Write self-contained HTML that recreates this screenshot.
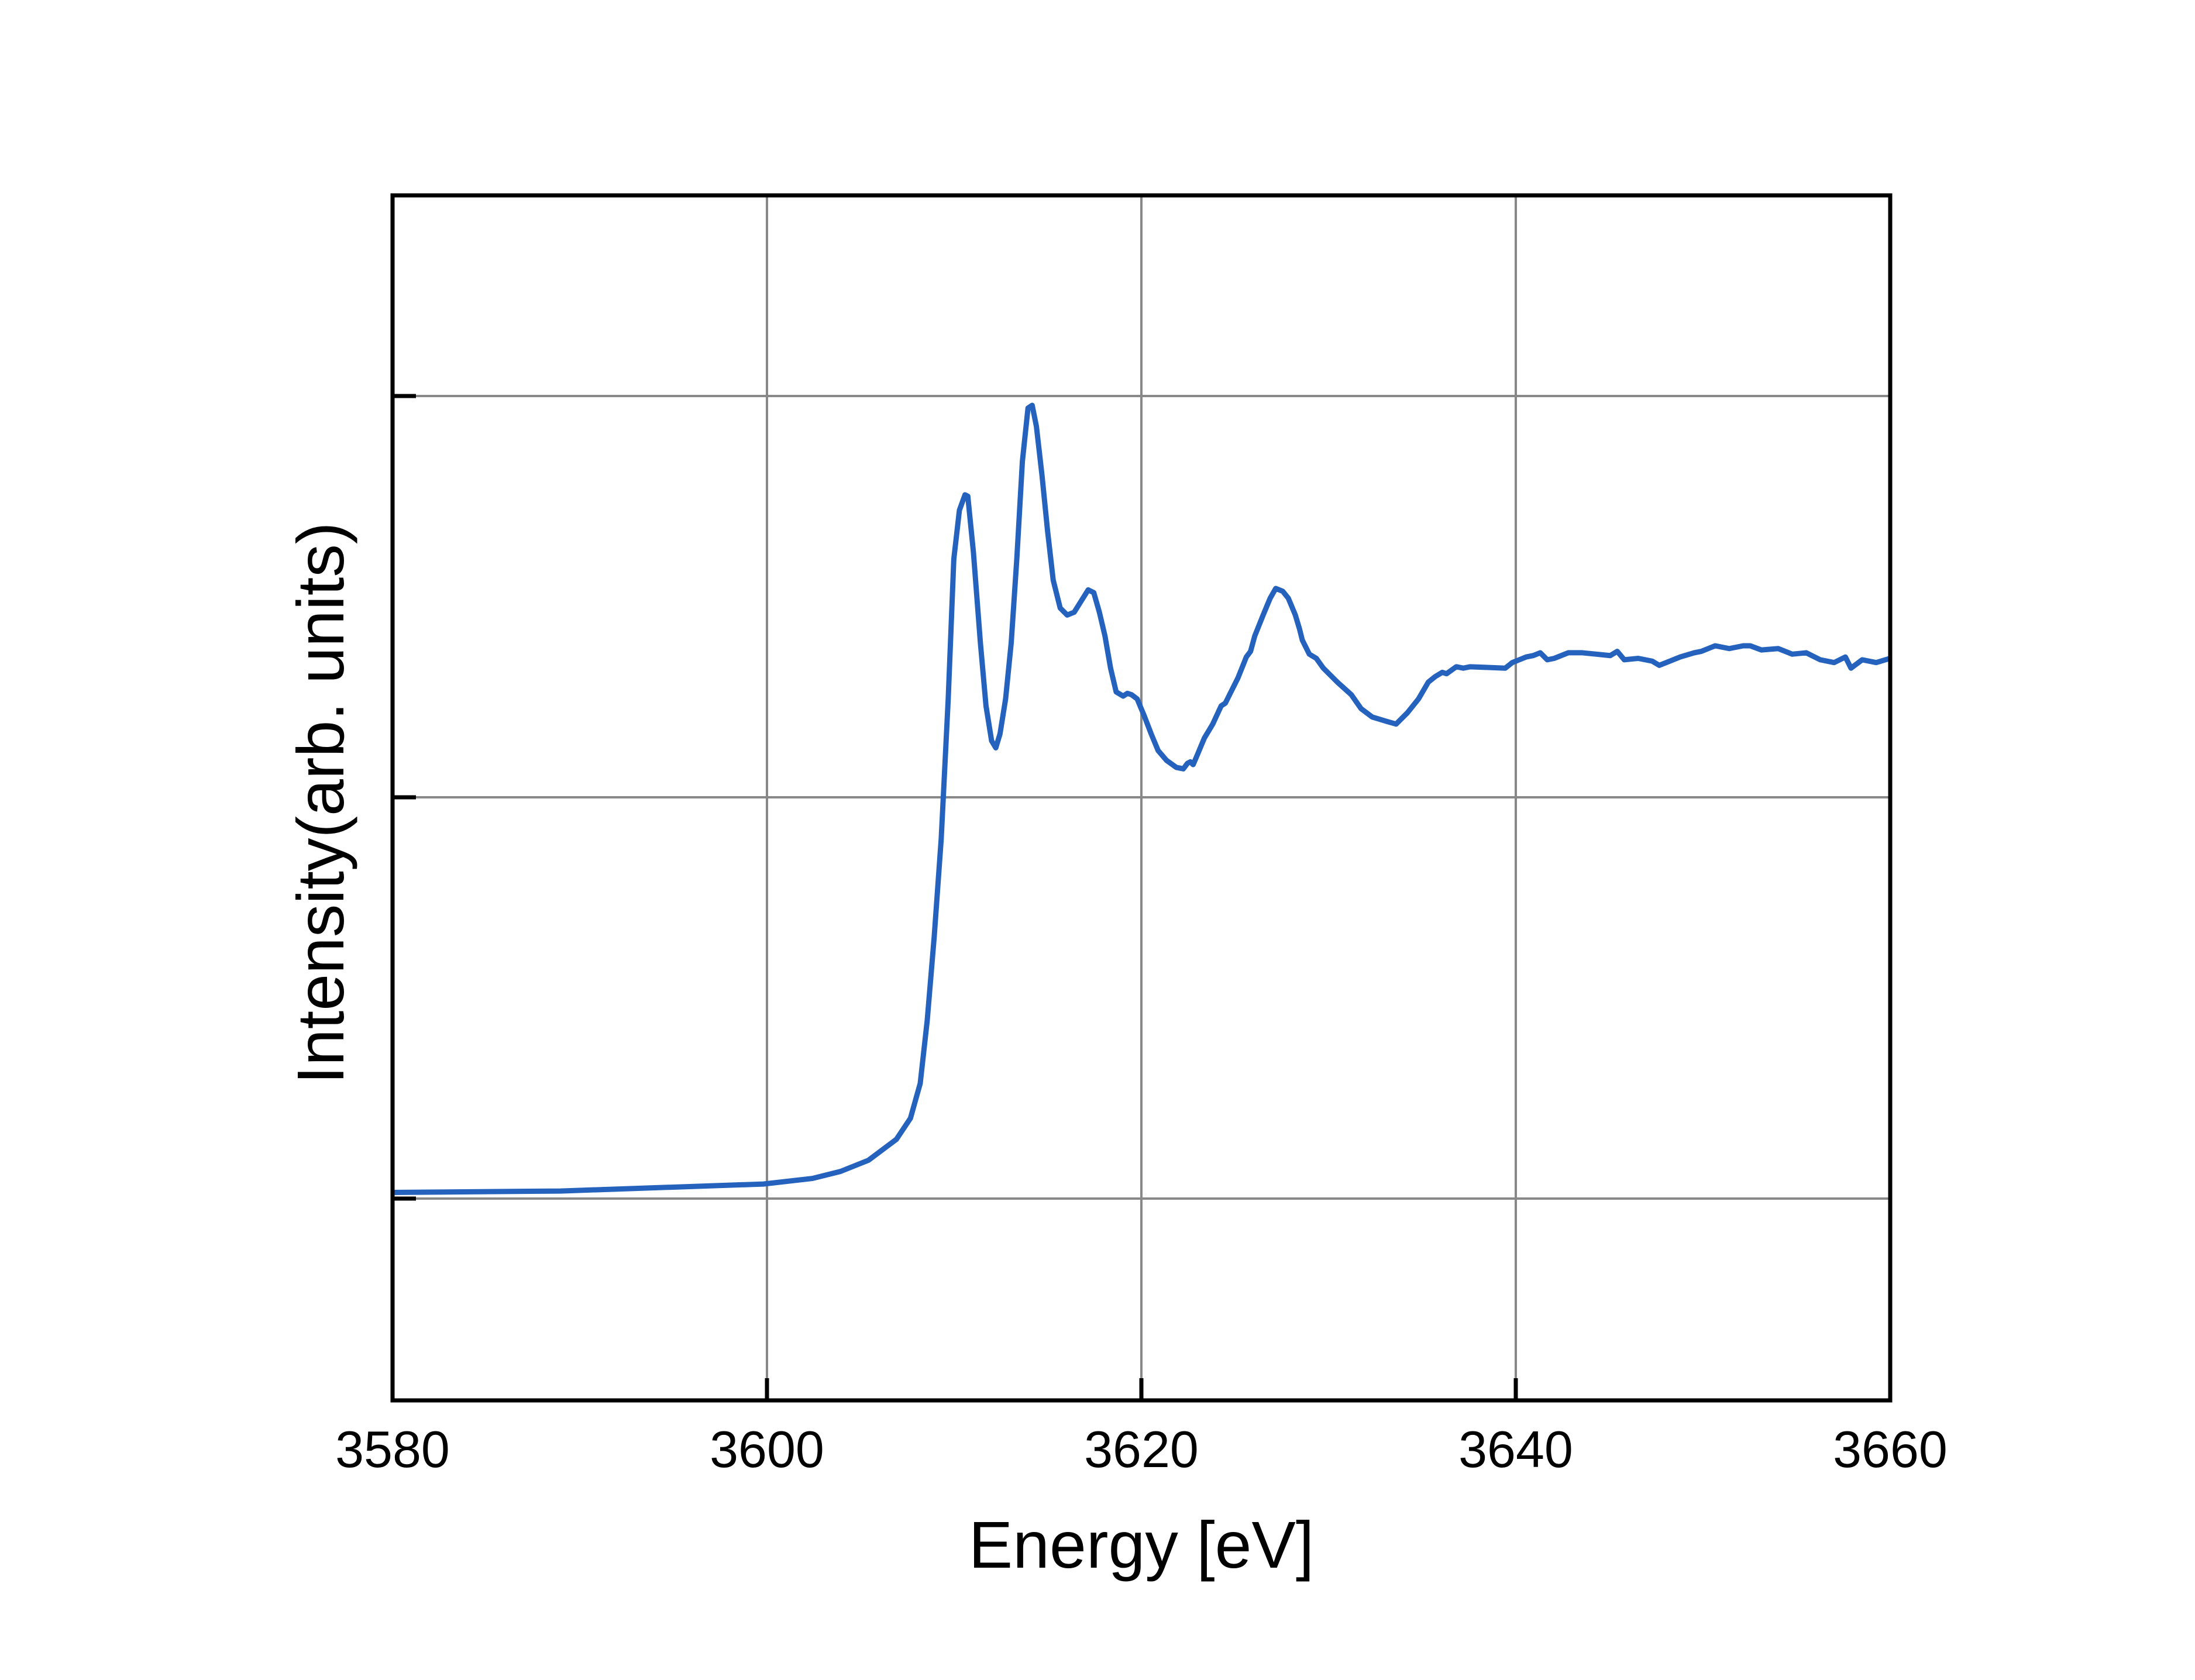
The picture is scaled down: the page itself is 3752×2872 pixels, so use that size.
<!DOCTYPE html>
<html><head><meta charset="utf-8"><style>html,body{margin:0;padding:0;background:#fff}svg{display:block}</style></head>
<body>
<svg width="3752" height="2872" viewBox="0 0 3752 2872" xmlns="http://www.w3.org/2000/svg">
<rect width="3752" height="2872" fill="#fff"/>
<g stroke="#888" stroke-width="4">
<line x1="1311" y1="334" x2="1311" y2="2394"/>
<line x1="1951" y1="334" x2="1951" y2="2394"/>
<line x1="2591" y1="334" x2="2591" y2="2394"/>
<line x1="671" y1="677" x2="3231" y2="677"/>
<line x1="671" y1="1363" x2="3231" y2="1363"/>
<line x1="671" y1="2049" x2="3231" y2="2049"/>
</g>
<g transform="matrix(2.3925 0 0 2.39 1.1 -0.2)">
<polyline fill="none" stroke="#2462bd" stroke-width="9" vector-effect="non-scaling-stroke" stroke-linejoin="round" points="280,853 400,852 545,847 580,843 600,838 620,830 640,815 650,800 657,775 662,730 667,670 672,600 677,500 681,400 685,365 689,354 691,355 695,395 700,460 704,505 708,530 711,535 714,525 718,500 722,460 726,400 730,330 734,292 737,290 740,305 744,340 748,380 752,415 757,435 762,440 767,438 772,430 777,422 781,424 785,438 789,455 793,478 797,495 802,498 805,496 808,497 812,500 817,512 822,525 827,537 833,544 840,549 845,550 848,546 850,545 852,547 855,540 860,528 863,523 866,518 872,505 875,503 878,497 884,485 890,470 893,466 896,455 902,440 907,428 911,421 916,423 920,428 925,440 928,450 930,458 935,468 940,471 945,478 955,488 965,497 972,507 980,513 990,516 997,518 1005,510 1013,500 1020,488 1025,484 1030,481 1033,482 1040,477 1045,478 1050,477 1075,478 1080,474 1085,472 1090,470 1095,469 1100,467 1105,472 1110,471 1120,467 1130,467 1140,468 1150,469 1155,466 1160,472 1170,471 1180,473 1185,476 1190,474 1200,470 1210,467 1215,466 1225,462 1235,464 1245,462 1250,462 1258,465 1270,464 1280,468 1290,467 1300,472 1310,474 1318,470 1322,478 1330,472 1340,474 1350,471"/>
</g>
<g stroke="#000" stroke-width="7" fill="none">
<rect x="671" y="334" width="2560" height="2060"/>
<line x1="1311" y1="2394" x2="1311" y2="2356"/>
<line x1="1951" y1="2394" x2="1951" y2="2356"/>
<line x1="2591" y1="2394" x2="2591" y2="2356"/>
<line x1="671" y1="677" x2="711" y2="677"/>
<line x1="671" y1="1363" x2="711" y2="1363"/>
<line x1="671" y1="2049" x2="711" y2="2049"/>
</g>
<g font-family="Liberation Sans, sans-serif" font-size="88" text-anchor="middle" fill="#000">
<text x="671" y="2508">3580</text>
<text x="1311" y="2508">3600</text>
<text x="1951" y="2508">3620</text>
<text x="2591" y="2508">3640</text>
<text x="3231" y="2508">3660</text>
</g>
<text x="1951" y="2680" font-family="Liberation Sans, sans-serif" font-size="113" text-anchor="middle">Energy [eV]</text>
<text transform="translate(587,1373) rotate(-90)" font-family="Liberation Sans, sans-serif" font-size="113" text-anchor="middle">Intensity(arb. units)</text>
</svg>
</body></html>
